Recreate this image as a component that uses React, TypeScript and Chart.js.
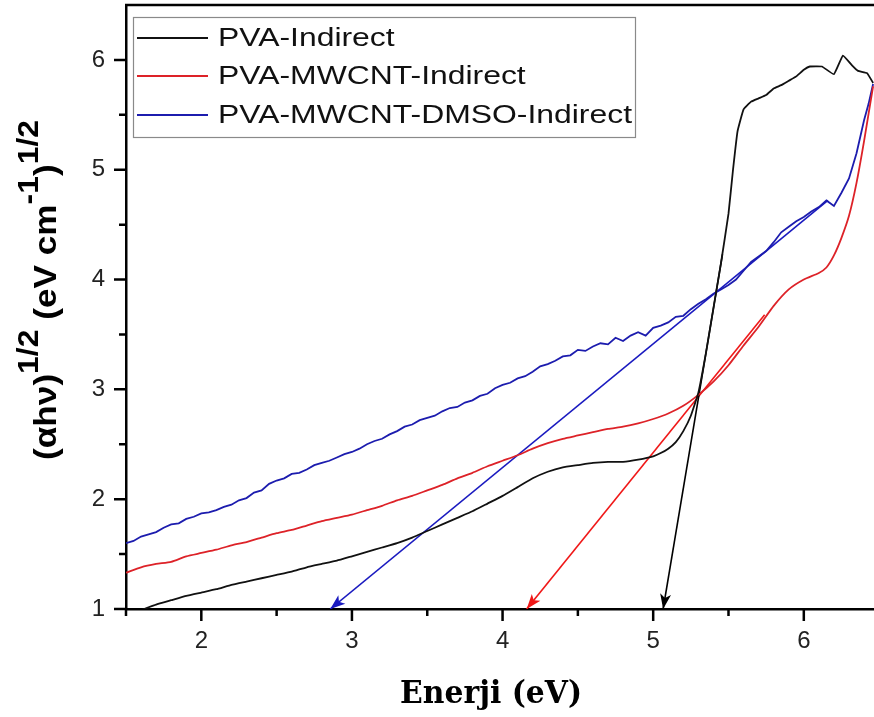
import React, { useEffect, useRef } from "react";
import { Chart, registerables } from "chart.js";

Chart.register(...registerables);

// ---------- data ----------
const pvaE = [1.60,1.70,1.80,1.90,2.00,2.10,2.20,2.30,2.40,2.50,2.60,2.70,2.80,2.90,3.00,3.10,3.20,3.30,3.40,3.50,3.60,3.70,3.80,3.90,4.00,4.10,4.20,4.30,4.40,4.50,4.60,4.70,4.80,4.90,5.00,5.05,5.10,5.15,5.20,5.25,5.30,5.35,5.40,5.45,5.50,5.53,5.56,5.60,5.65,5.70,5.75,5.80,5.85,5.90,5.95,6.00,6.04,6.12,6.20,6.26,6.32,6.36,6.42,6.46];
const pvaV = [0.99,1.04,1.08,1.12,1.15,1.18,1.22,1.25,1.28,1.31,1.34,1.38,1.41,1.44,1.48,1.52,1.56,1.60,1.65,1.71,1.77,1.83,1.89,1.96,2.03,2.11,2.19,2.25,2.29,2.31,2.33,2.34,2.34,2.36,2.39,2.42,2.46,2.52,2.62,2.76,2.97,3.33,3.74,4.15,4.60,5.00,5.35,5.55,5.62,5.65,5.68,5.74,5.77,5.81,5.85,5.91,5.94,5.94,5.87,6.04,5.95,5.90,5.88,5.79];

const mwE = [1.5,1.6,1.7,1.8,1.9,2.0,2.1,2.2,2.3,2.4,2.5,2.6,2.7,2.8,2.9,3.0,3.1,3.2,3.3,3.4,3.5,3.6,3.7,3.8,3.9,4.0,4.1,4.2,4.3,4.4,4.5,4.6,4.7,4.8,4.9,5.0,5.1,5.2,5.3,5.4,5.5,5.6,5.7,5.8,5.9,6.0,6.1,6.15,6.20,6.25,6.30,6.35,6.40,6.46];
const mwV = [1.33,1.38,1.41,1.43,1.48,1.51,1.54,1.58,1.61,1.65,1.69,1.72,1.76,1.80,1.83,1.86,1.90,1.94,1.99,2.03,2.08,2.13,2.19,2.24,2.30,2.35,2.40,2.46,2.51,2.55,2.58,2.61,2.64,2.66,2.69,2.73,2.78,2.85,2.95,3.07,3.22,3.40,3.57,3.76,3.91,4.00,4.06,4.11,4.22,4.38,4.58,4.88,5.26,5.76];

const dmE = [1.50,1.55,1.60,1.65,1.70,1.75,1.80,1.85,1.90,1.95,2.00,2.05,2.10,2.15,2.20,2.25,2.30,2.35,2.40,2.45,2.50,2.55,2.60,2.65,2.70,2.75,2.80,2.85,2.90,2.95,3.00,3.05,3.10,3.15,3.20,3.25,3.30,3.35,3.40,3.45,3.50,3.55,3.60,3.65,3.70,3.75,3.80,3.85,3.90,3.95,4.00,4.05,4.10,4.15,4.20,4.25,4.30,4.35,4.40,4.45,4.50,4.55,4.60,4.65,4.70,4.75,4.80,4.85,4.90,4.95,5.00,5.05,5.10,5.15,5.20,5.25,5.30,5.35,5.40,5.45,5.50,5.55,5.60,5.65,5.70,5.75,5.80,5.85,5.90,5.95,6.00,6.05,6.10,6.15,6.20,6.25,6.30,6.35,6.40,6.43,6.46];
const dmV = [1.60,1.62,1.66,1.68,1.70,1.74,1.77,1.78,1.82,1.84,1.87,1.88,1.90,1.93,1.95,1.99,2.01,2.06,2.08,2.14,2.17,2.19,2.23,2.24,2.27,2.31,2.33,2.35,2.38,2.41,2.43,2.46,2.50,2.53,2.55,2.59,2.62,2.66,2.68,2.72,2.74,2.76,2.80,2.83,2.84,2.88,2.90,2.94,2.96,3.01,3.04,3.06,3.10,3.12,3.16,3.21,3.23,3.26,3.30,3.31,3.36,3.35,3.39,3.42,3.41,3.47,3.44,3.49,3.52,3.49,3.56,3.58,3.61,3.66,3.67,3.73,3.78,3.82,3.87,3.91,3.95,4.00,4.08,4.16,4.21,4.26,4.34,4.43,4.48,4.53,4.57,4.62,4.66,4.72,4.67,4.79,4.92,5.15,5.45,5.60,5.78];

// tangent (extrapolation) lines: [start on axis, end]
const pvaFitE = [5.066, 5.46];
const pvaFitV = [1.0, 4.23];
const mwFitE = [4.16, 5.74];
const mwFitV = [1.0, 3.68];
const dmFitE = [2.856, 6.16];
const dmFitV = [1.0, 4.72];

const seriesLabels = ["PVA-Indirect", "PVA-MWCNT-Indirect", "PVA-MWCNT-DMSO-Indirect"];
const xMajor = [2, 3, 4, 5, 6];
const xMinor = [1.5, 2.5, 3.5, 4.5, 5.5];
const yMajor = [1, 2, 3, 4, 5, 6];
const yMinor = [1.5, 2.5, 3.5, 4.5, 5.5];
const xTitle = "Enerji (eV)";
const yTitleParts = [
  { t: "(\u03B1h\u03BD)", sup: false },
  { t: "1/2", sup: true },
  { t: " (eV cm", sup: false },
  { t: "-1", sup: true },
  { t: ")", sup: false },
  { t: "1/2", sup: true },
];

const toXY = (xs: number[], ys: number[]) => xs.map((x, i) => ({ x, y: ys[i] }));

const SANS = '"Liberation Sans", Arial, sans-serif';

const decorPlugin = {
  id: "decor",
  beforeDraw(chart: any) {
    const c = chart.ctx;
    c.save();
    c.fillStyle = "#fff";
    c.fillRect(0, 0, chart.width, chart.height);
    c.restore();
  },
  afterDatasetsDraw(chart: any) {
    const c = chart.ctx;
    chart.data.datasets.forEach((ds: any, i: number) => {
      if (!ds.arrow) return;
      const meta = chart.getDatasetMeta(i);
      const p0 = meta.data[0];
      const p1 = meta.data[1];
      const ang = Math.atan2(p0.y - p1.y, p0.x - p1.x);
      const L = 15, W = 5.5;
      c.save();
      c.fillStyle = ds.borderColor;
      c.translate(p0.x, p0.y);
      c.rotate(ang);
      c.beginPath();
      c.moveTo(0, 0);
      c.lineTo(-L, -W);
      c.lineTo(-L * 0.75, 0);
      c.lineTo(-L, W);
      c.closePath();
      c.fill();
      c.restore();
    });
  },
  afterDraw(chart: any) {
    const c = chart.ctx;
    const { left, right, top, bottom } = chart.chartArea;
    const xs = chart.scales.x;
    const ys = chart.scales.y;
    c.save();
    c.strokeStyle = "#000";
    c.lineWidth = 2.5;
    c.beginPath();
    c.moveTo(left - 1, top);
    c.lineTo(right, top);
    c.stroke();
    c.beginPath();
    xMajor.forEach((v) => { const p = xs.getPixelForValue(v); c.moveTo(p, bottom); c.lineTo(p, bottom + 12); });
    xMinor.forEach((v) => { const p = xs.getPixelForValue(v); c.moveTo(p, bottom); c.lineTo(p, bottom + 7); });
    yMajor.forEach((v) => { const p = ys.getPixelForValue(v); c.moveTo(left, p); c.lineTo(left - 12, p); });
    yMinor.forEach((v) => { const p = ys.getPixelForValue(v); c.moveTo(left, p); c.lineTo(left - 7, p); });
    c.stroke();
    c.restore();

    // legend
    const bx = 133, by = 17, bw = 502, bh = 120;
    c.save();
    c.fillStyle = "#fff";
    c.fillRect(bx, by, bw, bh);
    c.strokeStyle = "#8a8a8a";
    c.lineWidth = 1.2;
    c.strokeRect(bx + 0.5, by + 0.5, bw, bh);
    c.font = "26px " + SANS;
    c.textBaseline = "middle";
    c.fillStyle = "#111";
    const longest = Math.max(...seriesLabels.map((l) => c.measureText(l).width));
    const sx = 414 / longest;
    const rows = [38, 76, 115];
    const curves = chart.data.datasets.filter((d: any) => !d.arrow);
    curves.forEach((d: any, i: number) => {
      c.strokeStyle = d.borderColor;
      c.lineWidth = 2;
      c.beginPath();
      c.moveTo(137, rows[i]);
      c.lineTo(208, rows[i]);
      c.stroke();
      c.save();
      c.translate(218, rows[i] + 1);
      c.scale(sx, 1);
      c.fillText(d.label, 0, 0);
      c.restore();
    });
    c.restore();

    // x title
    c.save();
    c.font = 'bold 31px "DejaVu Serif", "Liberation Serif", serif';
    c.fillStyle = "#000";
    c.textBaseline = "alphabetic";
    const tw = c.measureText(xTitle).width;
    c.translate(491, 703);
    c.scale(182 / tw, 1);
    c.textAlign = "center";
    c.fillText(xTitle, 0, 0);
    c.restore();

    // y title
    c.save();
    c.fillStyle = "#000";
    c.textBaseline = "alphabetic";
    const mainF = "bold 32px " + SANS;
    const supF = "bold 29px " + SANS;
    let total = 0;
    const widths = yTitleParts.map((p) => {
      c.font = p.sup ? supF : mainF;
      const w = c.measureText(p.t).width;
      total += w;
      return w;
    });
    c.translate(56, 460);
    c.rotate(-Math.PI / 2);
    c.scale(340 / total, 1);
    let x = 0;
    yTitleParts.forEach((p, i) => {
      c.font = p.sup ? supF : mainF;
      c.fillText(p.t, x, p.sup ? -18 : 0);
      x += widths[i];
    });
    c.restore();
  },
};

export default function App() {
  const ref = useRef<HTMLCanvasElement | null>(null);
  useEffect(() => {
    if (!ref.current) return;
    const black = "#111111";
    const red = "#dd2228";
    const blue = "#1c1cae";
    const chart = new Chart(ref.current, {
      type: "line",
      data: {
        datasets: [
          { label: seriesLabels[0], data: toXY(pvaE, pvaV), borderColor: black, borderWidth: 1.8, pointRadius: 0, tension: 0.1 },
          { label: seriesLabels[1], data: toXY(mwE, mwV), borderColor: red, borderWidth: 1.8, pointRadius: 0, tension: 0.2 },
          { label: seriesLabels[2], data: toXY(dmE, dmV), borderColor: blue, borderWidth: 1.8, pointRadius: 0, tension: 0 },
          { label: "", data: toXY(pvaFitE, pvaFitV), borderColor: "#000000", borderWidth: 1.6, pointRadius: 0, arrow: true } as any,
          { label: "", data: toXY(mwFitE, mwFitV), borderColor: "#f01818", borderWidth: 1.6, pointRadius: 0, arrow: true } as any,
          { label: "", data: toXY(dmFitE, dmFitV), borderColor: "#1a1ac0", borderWidth: 1.6, pointRadius: 0, arrow: true } as any,
        ],
      },
      options: {
        responsive: false,
        animation: false,
        layout: { padding: { top: 5, right: 0, left: 0, bottom: 0 } },
        plugins: { legend: { display: false }, tooltip: { enabled: false } },
        scales: {
          x: {
            type: "linear",
            min: 1.5,
            max: 6.466,
            afterBuildTicks: (s: any) => { s.ticks = [...xMinor, ...xMajor].sort((a, b) => a - b).map((v) => ({ value: v })); },
            afterFit: (s: any) => { s.height = 108; s.paddingLeft = 0; s.paddingRight = 0; s.paddingTop = 0; s.paddingBottom = 0; },
            ticks: {
              autoSkip: false,
              maxRotation: 0,
              minRotation: 0,
              padding: 6,
              color: "#222",
              font: { family: SANS, size: 24 },
              callback: (v: any) => (xMajor.includes(Number(v)) ? String(v) : ""),
            },
            grid: { drawOnChartArea: false, color: "rgba(0,0,0,0)", tickLength: 12 },
            border: { display: true, color: "#000", width: 2.5 },
          },
          y: {
            type: "linear",
            min: 1,
            max: 6.5,
            afterBuildTicks: (s: any) => { s.ticks = [...yMinor, ...yMajor].sort((a, b) => a - b).map((v) => ({ value: v })); },
            afterFit: (s: any) => { s.width = 126; s.paddingTop = 0; s.paddingBottom = 0; s.paddingLeft = 0; s.paddingRight = 0; },
            ticks: {
              autoSkip: false,
              padding: 9,
              color: "#222",
              font: { family: SANS, size: 24 },
              callback: (v: any) => (yMajor.includes(Number(v)) ? String(v) : ""),
            },
            grid: { drawOnChartArea: false, color: "rgba(0,0,0,0)", tickLength: 12 },
            border: { display: true, color: "#000", width: 2.5 },
          },
        },
      } as any,
      plugins: [decorPlugin],
    });
    return () => chart.destroy();
  }, []);
  return (
    <div style={{ position: "fixed", left: 0, top: 0, width: 874, height: 717, background: "#fff" }}>
      <canvas ref={ref} width={874} height={717} style={{ display: "block" }} />
    </div>
  );
}
